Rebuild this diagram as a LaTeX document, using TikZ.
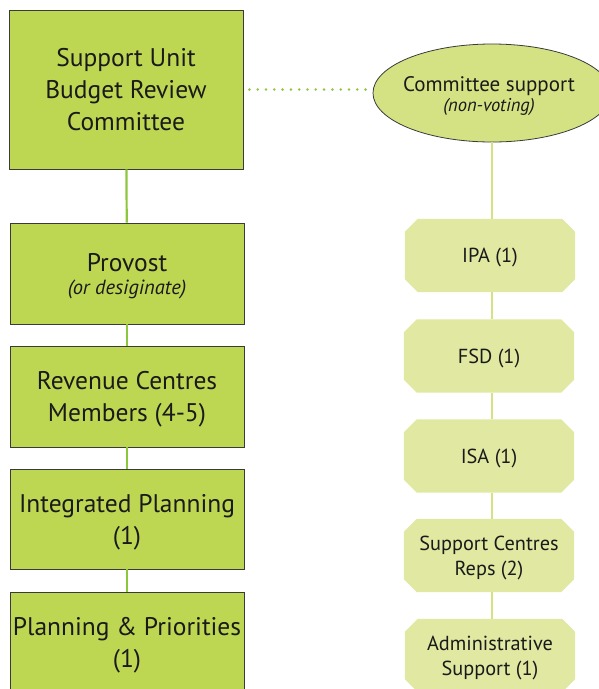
\documentclass[tikz,border=0pt]{standalone}
\usepackage{fontspec}
\setmainfont{PT Sans}
\usetikzlibrary{shapes.geometric,backgrounds}
\definecolor{boxfill}{HTML}{BED753}
\definecolor{boxline}{HTML}{3A3A3A}
\definecolor{ellfill}{HTML}{D5E283}
\definecolor{octfill}{HTML}{E0E8A2}
\definecolor{lconn}{HTML}{8DC63F}
\definecolor{rconn}{HTML}{D5E283}
\definecolor{textc}{HTML}{1A1A1A}
\tikzset{
  lbox/.style={draw=boxline, line width=0.8pt, fill=boxfill, minimum width=234pt,
    inner sep=0pt, align=center, text=textc, text depth=0pt, font=\fontsize{25.5}{32}\selectfont},
  rbox/.style={rectangle, minimum width=170pt, minimum height=73pt, inner sep=0pt, align=center,
    text=textc, text depth=0pt, font=\fontsize{20.3}{25}\selectfont},
  lline/.style={draw=lconn, line width=2.2pt},
  rline/.style={draw=rconn, line width=2.2pt},
  dotline/.style={draw=lconn, line width=2.8pt, line cap=round, dash pattern=on 0pt off 8.3pt}
}
\newcommand\octshape[1]{%
  \fill[octfill] ([xshift=13pt]#1.north west) -- ([xshift=-13pt]#1.north east)
    -- ([yshift=-13pt]#1.north east) -- ([yshift=13pt]#1.south east)
    -- ([xshift=-13pt]#1.south east) -- ([xshift=13pt]#1.south west)
    -- ([yshift=13pt]#1.south west) -- ([yshift=-13pt]#1.north west) -- cycle;}
\begin{document}
\begin{tikzpicture}[x=1pt,y=-1pt]
\useasboundingbox (0,0) rectangle (599,689);
\clip (0,0) rectangle (599,689);
% left column
\node[lbox, minimum height=159pt] (b1) at (126,89.5) {Support Unit\\Budget Review\\Committee};
\node[lbox, minimum height=101pt] (b2) at (127,273.5) {Provost\\[-9pt]{\fontsize{20.5}{23}\selectfont\itshape (or desiginate)}};
\node[lbox, minimum height=101pt] (b3) at (127,396.5) {Revenue Centres\\Members (4-5)};
\node[lbox, minimum height=100pt] (b4) at (127,519) {Integrated Planning\\(1)};
\node[lbox, minimum height=101pt] (b5) at (127,642.5) {Planning \& Priorities\\(1)};
% right column
\node[ellipse, draw=boxline, line width=0.8pt, fill=ellfill, minimum width=238pt, minimum height=98pt, inner sep=0pt] (ell) at (492,93) {};
\node[align=center, text=textc, font=\fontsize{21}{20}\selectfont, inner sep=0pt] (elltext) at (489,96) {Committee support\\{\fontsize{18.5}{20}\selectfont\itshape (non-voting)}};
\node[rbox] (r1) at (490,255.5) {IPA (1)};
\node[rbox] (r2) at (489,356) {FSD (1)};
\node[rbox] (r3) at (489,456) {ISA (1)};
\node[rbox] (r4) at (489,555.5) {Support Centres\\Reps (2)};
\node[rbox] (r5) at (490,655.5) {Administrative\\Support (1)};
\begin{pgfonlayer}{background}
\octshape{r1}\octshape{r2}\octshape{r3}\octshape{r4}\octshape{r5}
\end{pgfonlayer}
% connectors
\draw[lline] (b1) -- (b2);
\draw[lline] (b2) -- (b3);
\draw[lline] (b3) -- (b4);
\draw[lline] (b4) -- (b5);
\draw[rline] (ell.south) -- (ell.south |- r1.north);
\draw[rline] (r1.south -| ell.south) -- (r2.north -| ell.south);
\draw[rline] (r2.south -| ell.south) -- (r3.north -| ell.south);
\draw[rline] (r3.south -| ell.south) -- (r4.north -| ell.south);
\draw[rline] (r4.south -| ell.south) -- (r5.north -| ell.south);
\draw[dotline] ([xshift=6pt]b1.east) -- ([xshift=-4pt]b1.east -| ell.west);
\end{tikzpicture}
\end{document}
